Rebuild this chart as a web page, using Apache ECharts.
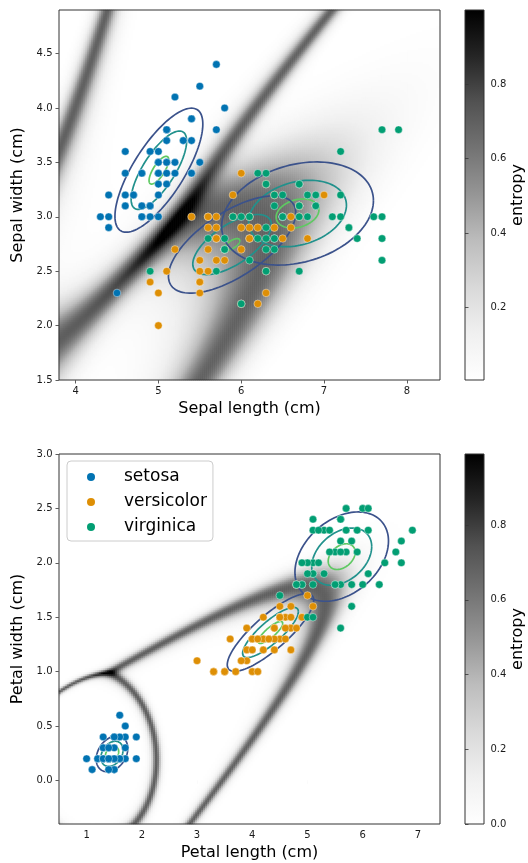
<!DOCTYPE html>
<html><head><meta charset="utf-8">
<script src="https://cdn.jsdelivr.net/npm/echarts@6/dist/echarts.min.js"></script>
<style>html,body{margin:0;padding:0;background:#fff}#c{width:528px;height:863px}</style>
</head><body><div id="c"></div><script>
// ---------------- data ----------------
const speciesNames = ['setosa', 'versicolor', 'virginica'];
const speciesColors = ['#0173b2', '#de8f05', '#029e73'];

const setosaSepalLength = [5.1,4.9,4.7,4.6,5.0,5.4,4.6,5.0,4.4,4.9,5.4,4.8,4.8,4.3,5.8,5.7,5.4,5.1,5.7,5.1,5.4,5.1,4.6,5.1,4.8,5.0,5.0,5.2,5.2,4.7,4.8,5.4,5.2,5.5,4.9,5.0,5.5,4.9,4.4,5.1,5.0,4.5,4.4,5.0,5.1,4.8,5.1,4.6,5.3,5.0];
const setosaSepalWidth  = [3.5,3.0,3.2,3.1,3.6,3.9,3.4,3.4,2.9,3.1,3.7,3.4,3.0,3.0,4.0,4.4,3.9,3.5,3.8,3.8,3.4,3.7,3.6,3.3,3.4,3.0,3.4,3.5,3.4,3.2,3.1,3.4,4.1,4.2,3.1,3.2,3.5,3.6,3.0,3.4,3.5,2.3,3.2,3.5,3.8,3.0,3.8,3.2,3.7,3.3];
const setosaPetalLength = [1.4,1.4,1.3,1.5,1.4,1.7,1.4,1.5,1.4,1.5,1.5,1.6,1.4,1.1,1.2,1.5,1.3,1.4,1.7,1.5,1.7,1.5,1.0,1.7,1.9,1.6,1.6,1.5,1.4,1.6,1.6,1.5,1.5,1.4,1.5,1.2,1.3,1.4,1.3,1.5,1.3,1.3,1.3,1.6,1.9,1.4,1.6,1.4,1.5,1.4];
const setosaPetalWidth  = [0.2,0.2,0.2,0.2,0.2,0.4,0.3,0.2,0.2,0.1,0.2,0.2,0.1,0.1,0.2,0.4,0.4,0.3,0.3,0.3,0.2,0.4,0.2,0.5,0.2,0.2,0.4,0.2,0.2,0.2,0.2,0.4,0.1,0.2,0.2,0.2,0.2,0.1,0.2,0.2,0.3,0.3,0.2,0.6,0.4,0.3,0.2,0.2,0.2,0.2];

const versicolorSepalLength = [7.0,6.4,6.9,5.5,6.5,5.7,6.3,4.9,6.6,5.2,5.0,5.9,6.0,6.1,5.6,6.7,5.6,5.8,6.2,5.6,5.9,6.1,6.3,6.1,6.4,6.6,6.8,6.7,6.0,5.7,5.5,5.5,5.8,6.0,5.4,6.0,6.7,6.3,5.6,5.5,5.5,6.1,5.8,5.0,5.6,5.7,5.7,6.2,5.1,5.7];
const versicolorSepalWidth  = [3.2,3.2,3.1,2.3,2.8,2.8,3.3,2.4,2.9,2.7,2.0,3.0,2.2,2.9,2.9,3.1,3.0,2.7,2.2,2.5,3.2,2.8,2.5,2.8,2.9,3.0,2.8,3.0,2.9,2.6,2.4,2.4,2.7,2.7,3.0,3.4,3.1,2.3,3.0,2.5,2.6,3.0,2.6,2.3,2.7,3.0,2.9,2.9,2.5,2.8];
const versicolorPetalLength = [4.7,4.5,4.9,4.0,4.6,4.5,4.7,3.3,4.6,3.9,3.5,4.2,4.0,4.7,3.6,4.4,4.5,4.1,4.5,3.9,4.8,4.0,4.9,4.7,4.3,4.4,4.8,5.0,4.5,3.5,3.8,3.7,3.9,5.1,4.5,4.5,4.7,4.4,4.1,4.0,4.4,4.6,4.0,3.3,4.2,4.2,4.2,4.3,3.0,4.1];
const versicolorPetalWidth  = [1.4,1.5,1.5,1.3,1.5,1.3,1.6,1.0,1.3,1.4,1.0,1.5,1.0,1.4,1.3,1.4,1.5,1.0,1.5,1.1,1.8,1.3,1.5,1.2,1.3,1.4,1.4,1.7,1.5,1.0,1.1,1.0,1.2,1.6,1.5,1.6,1.5,1.3,1.3,1.3,1.2,1.4,1.2,1.0,1.3,1.2,1.3,1.3,1.1,1.3];

const virginicaSepalLength = [6.3,5.8,7.1,6.3,6.5,7.6,4.9,7.3,6.7,7.2,6.5,6.4,6.8,5.7,5.8,6.4,6.5,7.7,7.7,6.0,6.9,5.6,7.7,6.3,6.7,7.2,6.2,6.1,6.4,7.2,7.4,7.9,6.4,6.3,6.1,7.7,6.3,6.4,6.0,6.9,6.7,6.9,5.8,6.8,6.7,6.7,6.3,6.5,6.2,5.9];
const virginicaSepalWidth  = [3.3,2.7,3.0,2.9,3.0,3.0,2.5,2.9,2.5,3.6,3.2,2.7,3.0,2.5,2.8,3.2,3.0,3.8,2.6,2.2,3.2,2.8,2.8,2.7,3.3,3.2,2.8,3.0,2.8,3.0,2.8,3.8,2.8,2.8,2.6,3.0,3.4,3.1,3.0,3.1,3.1,3.1,2.7,3.2,3.3,3.0,2.5,3.0,3.4,3.0];
const virginicaPetalLength = [6.0,5.1,5.9,5.6,5.8,6.6,4.5,6.3,5.8,6.1,5.1,5.3,5.5,5.0,5.1,5.3,5.5,6.7,6.9,5.0,5.7,4.9,6.7,4.9,5.7,6.0,4.8,4.9,5.6,5.8,6.1,6.4,5.6,5.1,5.6,6.1,5.6,5.5,4.8,5.4,5.6,5.1,5.1,5.9,5.7,5.2,5.0,5.2,5.4,5.1];
const virginicaPetalWidth  = [2.5,1.9,2.1,1.8,2.2,2.1,1.7,1.8,1.8,2.5,2.0,1.9,2.1,2.0,2.4,2.3,1.8,2.2,2.3,1.5,2.3,2.0,2.0,1.8,2.1,1.8,1.8,1.8,2.1,1.6,1.9,2.0,2.2,1.5,1.4,2.3,2.4,1.8,1.8,2.1,2.4,2.3,1.9,2.3,2.5,2.3,1.9,2.0,2.3,1.8];

// Gaussian mixture components (estimated from the drawn ellipses / entropy map)
const sepalMeans   = [[5.006, 3.428], [5.89, 2.745], [6.68, 3.03]];
const sepalSigmas  = [[0.349, 0.375], [0.516, 0.300], [0.615, 0.318]];
const sepalRhos    = [0.743, 0.65, 0.25];
const sepalWeights = [0.333, 0.27, 0.397];
const sepalRadii   = [[1.52, 0.96, 0.34], [1.49, 0.92, 0.18], [1.49, 0.96, 0.42]];

const petalMeans   = [[1.46, 0.245], [4.33, 1.36], [5.62, 2.057]];
const petalSigmas  = [[0.168, 0.097], [0.515, 0.235], [0.543, 0.263]];
const petalRhos    = [0.30, 0.83, 0.35];
const petalWeights = [0.333, 0.36, 0.307];
const petalRadii   = [[1.70, 1.19, 0.72], [1.52, 0.98, 0.43], [1.56, 1.00, 0.45]];

// axes
const sepalXRange = [3.8, 8.4], sepalYRange = [1.5, 4.9];
const petalXRange = [0.5, 7.4], petalYRange = [-0.4, 3.0];
const sepalXTicks = [4, 5, 6, 7, 8];
const sepalYTicks = [1.5, 2.0, 2.5, 3.0, 3.5, 4.0, 4.5];
const petalXTicks = [1, 2, 3, 4, 5, 6, 7];
const petalYTicks = [0.0, 0.5, 1.0, 1.5, 2.0, 2.5, 3.0];
const sepalEntropyRange = [0.005, 1.0];
const petalEntropyRange = [0.0, 0.99];
const sepalEntropyTicks = [0.2, 0.4, 0.6, 0.8];
const petalEntropyTicks = [0.0, 0.2, 0.4, 0.6, 0.8];

const greys = ['#ffffff','#f0f0f0','#d9d9d9','#bdbdbd','#969696','#737373','#525252','#252525','#000000'];
const levelColors = ['#3b528b', '#21918c', '#5ec962'];
const FONT = 'DejaVu Sans';

// ---------------- helpers ----------------
function comps(means, sigmas, rhos, weights) {
  return means.map((m, k) => {
    const sx = sigmas[k][0], sy = sigmas[k][1], r = rhos[k];
    const q = 1 - r * r;
    return { m, sx, sy, r, q, logc: Math.log(weights[k]) - Math.log(2 * Math.PI * sx * sy * Math.sqrt(q)) };
  });
}
function entropyGrid(cs, xr, yr, nx, ny, range) {
  const out = [];
  for (let j = 0; j < ny; j++) {
    const y = yr[0] + (j + 0.5) * (yr[1] - yr[0]) / ny;
    for (let i = 0; i < nx; i++) {
      const x = xr[0] + (i + 0.5) * (xr[1] - xr[0]) / nx;
      const l = cs.map(c => {
        const u = (x - c.m[0]) / c.sx, v = (y - c.m[1]) / c.sy;
        return c.logc - 0.5 * (u * u - 2 * c.r * u * v + v * v) / c.q;
      });
      const mx = Math.max.apply(null, l);
      const e = l.map(a => Math.exp(a - mx));
      const s = e.reduce((a, b) => a + b, 0);
      let h = 0;
      e.forEach(a => { const p = a / s; if (p > 0) h -= p * Math.log(p); });
      h = Math.min(range[1], Math.max(range[0], h));
      out.push([i, j, h]);
    }
  }
  return out;
}
function ellipseData(means, radii) {
  const d = [];
  means.forEach((m, k) => radii[k].forEach((r, lev) => d.push([m[0], m[1], k, lev])));
  return d;
}
function ellipseRenderer(sigmas, rhos, radii) {
  return function (params, api) {
    const k = api.value(2), lev = api.value(3);
    const mx = api.value(0), my = api.value(1);
    const sx = sigmas[k][0], sy = sigmas[k][1], rho = rhos[k], R = radii[k][lev];
    const pts = [];
    for (let t = 0; t <= 120; t++) {
      const a = t / 120 * 2 * Math.PI, c = Math.cos(a), s = Math.sin(a);
      pts.push(api.coord([mx + R * sx * c, my + R * sy * (rho * c + Math.sqrt(1 - rho * rho) * s)]));
    }
    return { type: 'polyline', shape: { points: pts }, style: { fill: null, stroke: levelColors[lev], lineWidth: 1.7 }, z2: 3 - lev };
  };
}
function idx(n) { const a = []; for (let i = 0; i < n; i++) a.push(String(i)); return a; }
function zip(a, b) { return a.map((v, i) => [v, b[i]]); }

const NX = 190, NY = 185;
const sepalComps = comps(sepalMeans, sepalSigmas, sepalRhos, sepalWeights);
const petalComps = comps(petalMeans, petalSigmas, petalRhos, petalWeights);
const sepalHeat = entropyGrid(sepalComps, sepalXRange, sepalYRange, NX, NY, sepalEntropyRange);
const petalHeat = entropyGrid(petalComps, petalXRange, petalYRange, NX, NY, petalEntropyRange);

const sepalPts = [zip(setosaSepalLength, setosaSepalWidth), zip(versicolorSepalLength, versicolorSepalWidth), zip(virginicaSepalLength, virginicaSepalWidth)];
const petalPts = [zip(setosaPetalLength, setosaPetalWidth), zip(versicolorPetalLength, versicolorPetalWidth), zip(virginicaPetalLength, virginicaPetalWidth)];

// ---------------- layout ----------------
const grids = [
  { left: 59, top: 10, width: 381, height: 370 },
  { left: 59, top: 454, width: 381, height: 370 },
  { left: 465, top: 10, width: 19, height: 370 },
  { left: 465, top: 454, width: 19, height: 370 }
];
function gradient() {
  return new echarts.graphic.LinearGradient(0, 0, 0, 1, greys.slice().reverse().map((c, i) => ({ offset: i / (greys.length - 1), color: c })));
}
const tickLabel = { fontFamily: FONT, fontSize: 10, color: '#1a1a1a', margin: 6.5 };
const tickStyle = { length: 3.5, lineStyle: { color: '#333', width: 0.8 } };
const nameStyle = { fontFamily: FONT, fontSize: 16, color: '#000' };

function valueX(gi, range, ticks, name) {
  return { type: 'value', gridIndex: gi, position: 'bottom', min: range[0], max: range[1],
    splitLine: { show: false }, axisLine: { show: false },
    axisTick: Object.assign({ customValues: ticks }, tickStyle),
    axisLabel: Object.assign({ customValues: ticks, formatter: v => String(v) }, tickLabel),
    name, nameLocation: 'middle', nameGap: 21, nameTextStyle: nameStyle };
}
function valueY(gi, range, ticks, name) {
  return { type: 'value', gridIndex: gi, position: 'left', min: range[0], max: range[1],
    splitLine: { show: false }, axisLine: { show: false },
    axisTick: Object.assign({ customValues: ticks }, tickStyle),
    axisLabel: Object.assign({ customValues: ticks, formatter: v => v.toFixed(1) }, tickLabel),
    name, nameLocation: 'middle', nameGap: 21, nameTextStyle: nameStyle };
}
function catAxis(gi, n, pos) { return { type: 'category', gridIndex: gi, data: idx(n), show: false, position: pos }; }
function cbarY(gi, range, ticks) {
  return { type: 'value', gridIndex: gi, position: 'right', min: range[0], max: range[1],
    splitLine: { show: false }, axisLine: { show: false },
    axisTick: Object.assign({ customValues: ticks }, tickStyle),
    axisLabel: Object.assign({ customValues: ticks, formatter: v => v.toFixed(1) }, tickLabel),
    name: 'entropy', nameLocation: 'middle', nameGap: 15, nameTextStyle: nameStyle };
}

const series = [];
series.push({ type: 'heatmap', xAxisIndex: 1, yAxisIndex: 1, data: sepalHeat, progressive: 0, z: 1, silent: true });
series.push({ type: 'heatmap', xAxisIndex: 3, yAxisIndex: 3, data: petalHeat, progressive: 0, z: 1, silent: true });
series.push({ type: 'custom', xAxisIndex: 0, yAxisIndex: 0, data: ellipseData(sepalMeans, sepalRadii), renderItem: ellipseRenderer(sepalSigmas, sepalRhos, sepalRadii), z: 3, silent: true });
series.push({ type: 'custom', xAxisIndex: 2, yAxisIndex: 2, data: ellipseData(petalMeans, petalRadii), renderItem: ellipseRenderer(petalSigmas, petalRhos, petalRadii), z: 3, silent: true });
speciesNames.forEach((nm, k) => {
  series.push({ type: 'scatter', name: nm, xAxisIndex: 0, yAxisIndex: 0, data: sepalPts[k], symbolSize: 7.6, z: 4,
    itemStyle: { color: speciesColors[k], borderColor: '#fff', borderWidth: 0.4, opacity: 1 } });
});
speciesNames.forEach((nm, k) => {
  series.push({ type: 'scatter', name: nm, xAxisIndex: 2, yAxisIndex: 2, data: petalPts[k], symbolSize: 7.6, z: 4,
    itemStyle: { color: speciesColors[k], borderColor: '#fff', borderWidth: 0.4, opacity: 1 } });
});

const option = {
  animation: false,
  backgroundColor: '#fff',
  textStyle: { fontFamily: FONT },
  grid: [
    Object.assign({ show: true, z: 10, backgroundColor: 'transparent', borderColor: '#333', borderWidth: 1 }, grids[0]),
    Object.assign({ show: true, z: 10, backgroundColor: 'transparent', borderColor: '#333', borderWidth: 1 }, grids[1]),
    Object.assign({ show: true, backgroundColor: gradient(), borderColor: '#333', borderWidth: 1 }, grids[2]),
    Object.assign({ show: true, backgroundColor: gradient(), borderColor: '#333', borderWidth: 1 }, grids[3])
  ],
  xAxis: [
    valueX(0, sepalXRange, sepalXTicks, 'Sepal length (cm)'),
    catAxis(0, NX, 'top'),
    valueX(1, petalXRange, petalXTicks, 'Petal length (cm)'),
    catAxis(1, NX, 'top'),
    { type: 'value', gridIndex: 2, show: false, min: 0, max: 1 },
    { type: 'value', gridIndex: 3, show: false, min: 0, max: 1 }
  ],
  yAxis: [
    valueY(0, sepalYRange, sepalYTicks, 'Sepal width (cm)'),
    catAxis(0, NY, 'right'),
    valueY(1, petalYRange, petalYTicks, 'Petal width (cm)'),
    catAxis(1, NY, 'right'),
    cbarY(2, sepalEntropyRange, sepalEntropyTicks),
    cbarY(3, petalEntropyRange, petalEntropyTicks)
  ],
  visualMap: [
    { type: 'continuous', show: false, seriesIndex: 0, dimension: 2, min: sepalEntropyRange[0], max: sepalEntropyRange[1], inRange: { color: greys } },
    { type: 'continuous', show: false, seriesIndex: 1, dimension: 2, min: petalEntropyRange[0], max: petalEntropyRange[1], inRange: { color: greys } }
  ],
  legend: {
    data: speciesNames, orient: 'vertical', left: 67, top: 461, z: 20,
    icon: 'circle', itemWidth: 8, itemHeight: 8, itemGap: 5,
    padding: [6, 6, 4, 20],
    backgroundColor: 'rgba(255,255,255,0.85)', borderColor: '#cccccc', borderWidth: 1, borderRadius: 4,
    textStyle: { fontFamily: FONT, fontSize: 17, color: '#000', lineHeight: 20, padding: [0, 0, 0, 24] },
    itemStyle: { borderWidth: 0 }
  },
  series
};

const chart = echarts.init(document.getElementById('c'), null, { renderer: 'canvas', width: 528, height: 863 });
chart.setOption(option);
</script></body></html>
